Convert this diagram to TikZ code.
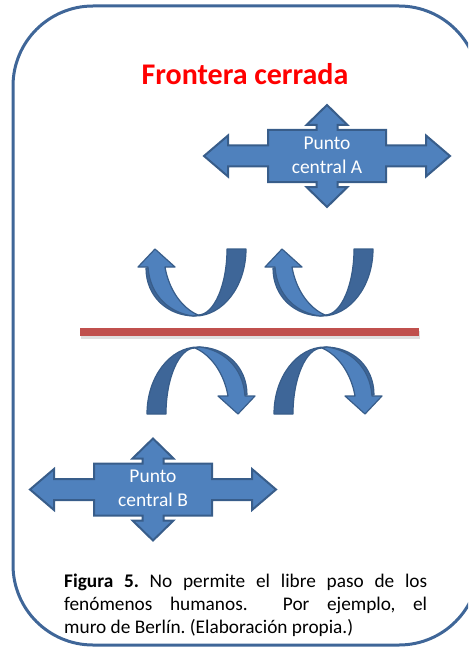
\documentclass[tikz,border=0pt]{standalone}
\usepackage{fontspec}
\setmainfont{Carlito}
\frenchspacing
\definecolor{frameblue}{HTML}{3F6698}
\definecolor{accfill}{HTML}{4F81BD}
\definecolor{accback}{HTML}{3E6698}
\definecolor{accline}{HTML}{385D8A}
\definecolor{wallred}{HTML}{C0504D}
\begin{document}
\begin{tikzpicture}[x=1pt,y=-1pt,
  framestyle/.style={draw=frameblue,line width=3pt,rounded corners=80pt},
  crossarrow/.style={fill=accfill,draw=accline,line width=2pt,line join=miter},
  bandfront/.style={fill=accfill,draw=accline,line width=1.2pt,line join=round},
  bandback/.style={fill=accback,draw=accline,line width=1.2pt,line join=round},
  crosstext/.style={text=white,align=center,inner sep=0pt,font=\fontsize{19.5}{24}\selectfont},
  captext/.style={anchor=base west,inner sep=0pt,font=\fontsize{19.3}{23}\selectfont},
  pics/uturn/.style={code={
    % back face of the ribbon
    \path[bandback] (49.5,-82.5) .. controls (49.5,-45.5) and (26.5,-15.5) .. (-1.5,-15.5)
      .. controls (-28.5,-15.5) and (-50.5,-34.5) .. (-50.5,-63.5) -- (-39.5,-63.5)
      .. controls (-36.5,-38.5) and (-18.5,-19.5) .. (1.5,-16.5)
      .. controls (17.5,-16.5) and (30.5,-46.5) .. (30.5,-82.5) -- cycle;
    % front face with the arrow head
    \path[bandfront] (-58.5,-64.5) -- (-41.5,-82.5) -- (-21.5,-64.5) -- (-31.5,-64.5)
      .. controls (-27.5,-41.5) and (-14.5,-23.5) .. (1.5,-16.5) -- (-3.5,-15.5)
      .. controls (-26.5,-18.5) and (-46.5,-35.5) .. (-48.5,-64.5) -- cycle;
  }},
  pics/quad/.style={code={
    \path[crossarrow] (0,-51) -- (20.5,-31) -- (10.5,-31) -- (10.5,-26) -- (59,-26)
      -- (59,-10.5) -- (99,-10.5) -- (99,-20.5) -- (123,0) -- (99,20.5) -- (99,10.5)
      -- (59,10.5) -- (59,26) -- (10.5,26) -- (10.5,31) -- (20.5,31) -- (0,51)
      -- (-20.5,31) -- (-10.5,31) -- (-10.5,26) -- (-59,26) -- (-59,10.5) -- (-99,10.5)
      -- (-99,20.5) -- (-123,0) -- (-99,-20.5) -- (-99,-10.5) -- (-59,-10.5) -- (-59,-26)
      -- (-10.5,-26) -- (-10.5,-31) -- (-20.5,-31) -- cycle;
  }}]
\useasboundingbox (0,0) rectangle (468,647);
\clip (0,0) rectangle (468,647);

% outer frame
\draw[framestyle] (13,6) rectangle (479,645);

% title
\node[text=red,font=\bfseries\fontsize{30}{36}\selectfont,inner sep=0pt] (title) at (245,74) {Frontera cerrada};

% point A
\pic at (327,156) {quad};
\node[crosstext] (ptA) at (327,155) {Punto\\central A};

% the wall and the turned-back arrows
\draw[line width=8pt,gray,opacity=.25] (81,334.5) -- (420,334.5);
\draw[line width=8pt,wallred] (80,331.5) -- (419,331.5);
\pic at (196.5,331.5) {uturn};
\pic at (323.5,331.5) {uturn};
\pic[rotate=180] at (196.5,331.5) {uturn};
\pic[rotate=180] at (323.5,331.5) {uturn};

% point B
\pic at (153,489.5) {quad};
\node[crosstext] (ptB) at (153,488.5) {Punto\\central B};

% caption
\node[captext] (cap1) at (64,587) {\makebox[363pt][s]{\textbf{Figura 5.} No permite el libre paso de los}};
\node[captext] (cap2) at (64,610) {\makebox[363pt][s]{fenómenos humanos.\ \ Por ejemplo, el}};
\node[captext] (cap3) at (64,633) {muro de Berlín. (Elaboración propia.)};
\end{tikzpicture}
\end{document}
